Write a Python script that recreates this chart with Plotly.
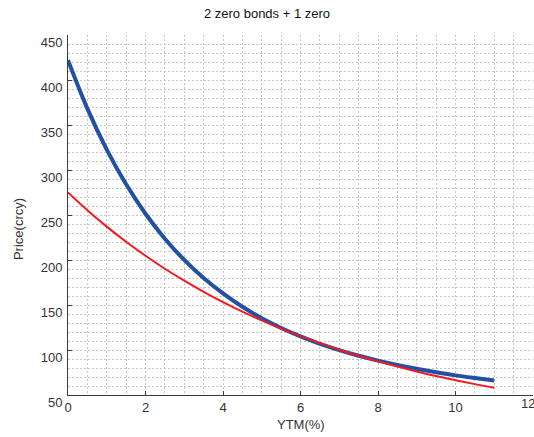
import plotly.graph_objects as go

ytm = [0, 0.5, 1, 1.5, 2, 2.5, 3, 3.5, 4, 4.5, 5, 5.5, 6, 6.5, 7, 7.5, 8, 8.5, 9, 9.5, 10, 10.5, 11]
price_two_zeros = [422.0, 368.2, 322.7, 284.1, 251.4, 223.7, 200.1, 179.9, 162.8, 148.0, 135.4, 124.5,
                   115.1, 106.9, 99.9, 93.6, 88.2, 83.4, 79.1, 75.3, 71.8, 68.8, 66.0]
price_one_zero = [275.0, 255.3, 237.1, 220.3, 204.7, 190.3, 177.0, 164.7, 153.3, 142.7, 132.9, 123.8,
                  115.4, 107.6, 100.3, 93.6, 87.4, 81.6, 76.2, 71.1, 66.5, 62.1, 58.1]
x_ticks = [0, 2, 4, 6, 8, 10, 12]
y_ticks = [50, 100, 150, 200, 250, 300, 350, 400, 450]

FONT = "Liberation Sans, Arial, sans-serif"
GRID = "#c6c6c6"
DASH = "2px,2px"
AX = "#3a3a3a"
TXT = "#333333"
FS = 13

fig = go.Figure()
fig.add_trace(go.Scatter(x=ytm, y=price_two_zeros, mode="lines", line=dict(color="#2250a3", width=4),
                         line_shape="spline", showlegend=False))
fig.add_trace(go.Scatter(x=ytm, y=price_one_zero, mode="lines", line=dict(color="#f21a1f", width=2),
                         line_shape="spline", showlegend=False))

fig.update_layout(
    width=534, height=437,
    margin=dict(l=68, r=1, t=35, b=42),
    paper_bgcolor="white", plot_bgcolor="white",
    font=dict(family=FONT, size=FS, color=TXT),
    title=dict(text="2 zero bonds + 1 zero", x=0.5, xanchor="center", y=0.970, yanchor="middle",
               font=dict(family=FONT, size=FS, color="#111111")),
)
fig.update_xaxes(
    range=[0, 12], tickvals=x_ticks, ticktext=[str(v) for v in x_ticks],
    showline=True, linecolor=AX, linewidth=1, mirror=False,
    ticks="inside", ticklen=4, tickcolor=AX, tickwidth=1,
    showgrid=True, gridcolor=GRID, griddash=DASH, gridwidth=1,
    minor=dict(dtick=0.5, showgrid=True, gridcolor=GRID, griddash=DASH, gridwidth=1),
    zeroline=False, tickfont=dict(size=FS, color=TXT), ticklabelstandoff=0,
)
fig.update_yaxes(
    range=[50, 450], tickvals=y_ticks, ticktext=[str(v) for v in y_ticks],
    showline=True, linecolor=AX, linewidth=1, mirror=False,
    ticks="inside", ticklen=4, tickcolor=AX, tickwidth=1,
    showgrid=True, gridcolor=GRID, griddash=DASH, gridwidth=1,
    minor=dict(dtick=10, showgrid=True, gridcolor=GRID, griddash=DASH, gridwidth=1),
    zeroline=False, tickfont=dict(size=FS, color=TXT), ticklabelstandoff=2, ticklabelshift=7,
)

fig.add_annotation(text="12", x=12, xref="x", y=-0.025, yref="paper", xanchor="center", yanchor="middle",
                   xshift=-5, showarrow=False, font=dict(size=FS, color=TXT))
fig.add_annotation(text="YTM(%)", x=0.5, xref="paper", y=-0.083, yref="paper", xanchor="center",
                   yanchor="middle", showarrow=False, font=dict(size=FS, color=TXT))
fig.add_annotation(text="Price(crcy)", x=-0.1075, xref="paper", y=0.461, yref="paper", xanchor="center",
                   yanchor="middle", textangle=-90, showarrow=False, font=dict(size=FS, color=TXT))

fig.write_html("out.html")
